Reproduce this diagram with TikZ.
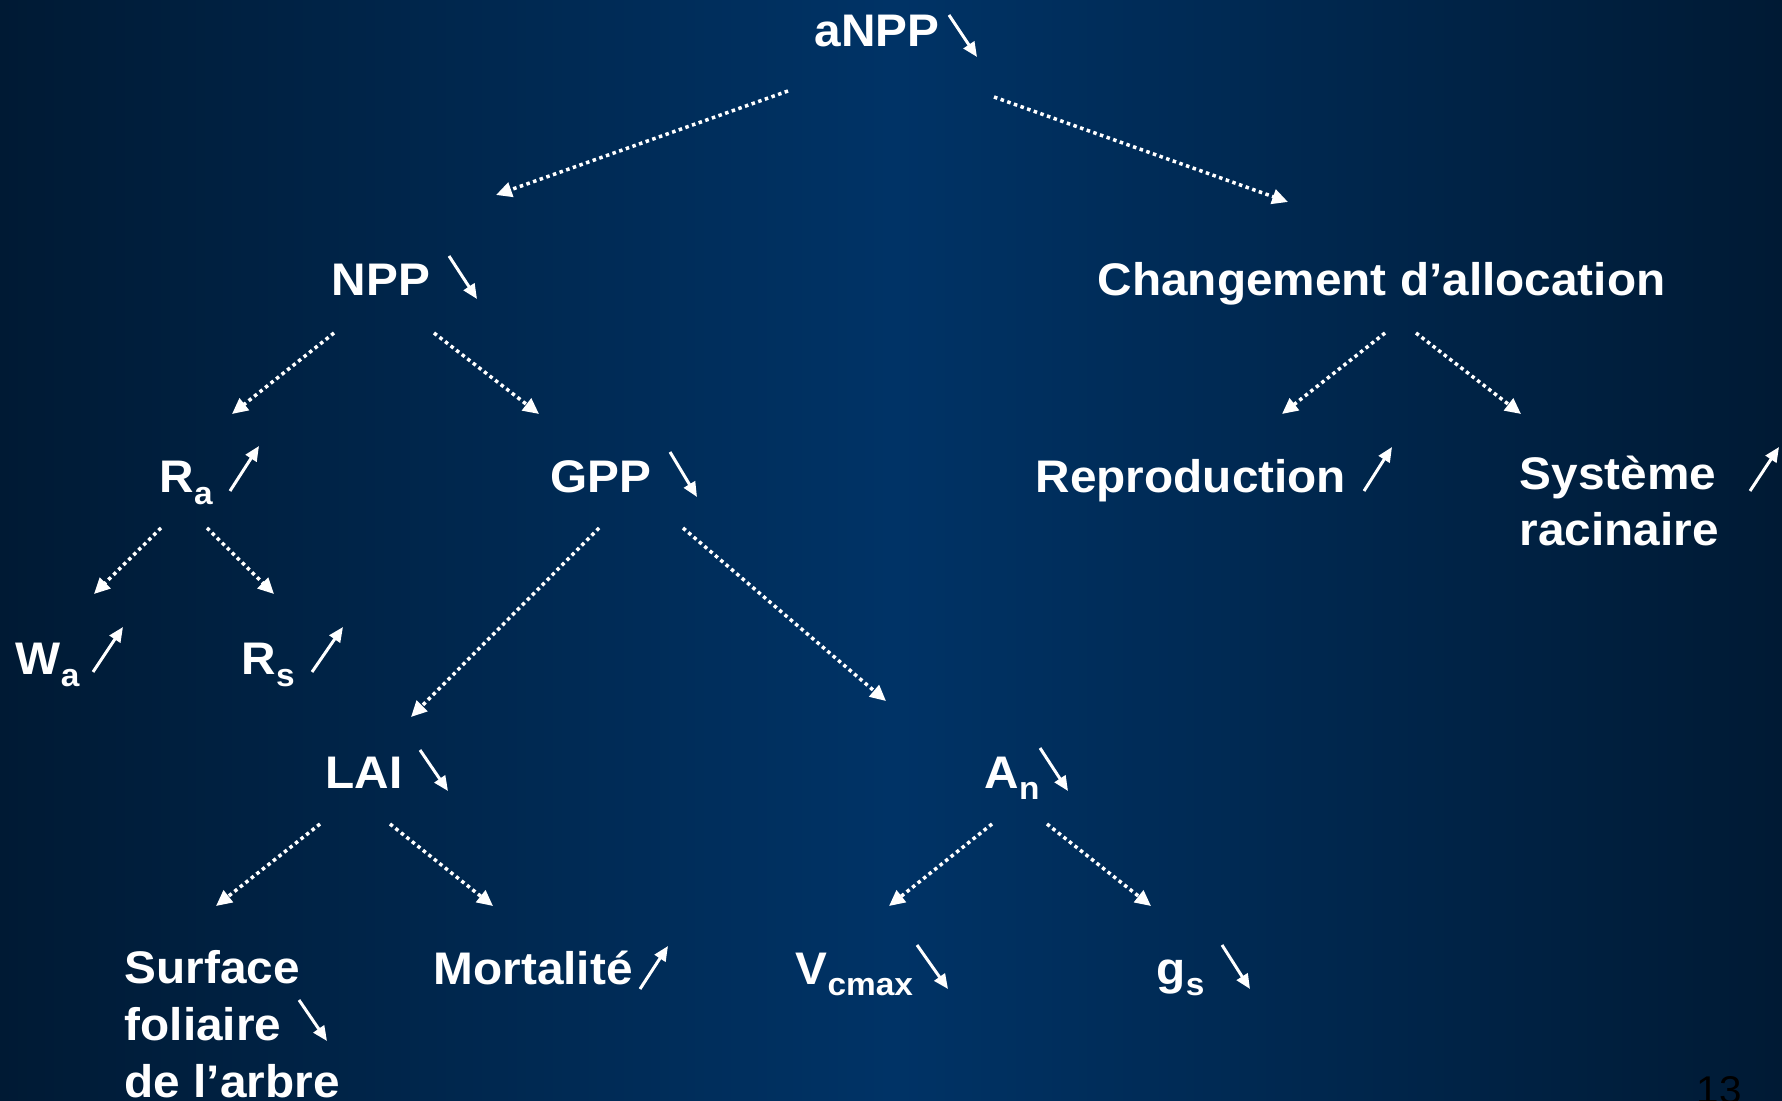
\documentclass[tikz,border=0pt]{standalone}
\usepackage{fontspec}
\setmainfont{Liberation Sans}[FakeStretch=1.045]
\usetikzlibrary{arrows.meta,calc}

\definecolor{bgedge}{RGB}{0,26,52}
\definecolor{bgmid}{RGB}{0,51,102}

% lowered index as on the slide
\newcommand{\idx}[1]{\raisebox{-0.25em}{\fontsize{9.1}{10}\selectfont #1}}

\tikzset{
  term/.style={text=white, font=\fontsize{13}{16.2}\selectfont\bfseries, inner sep=0pt, anchor=base west},
  link/.style={white, line width=1pt, dash pattern=on 1pt off 1pt, -{Triangle[length=4.5pt,width=4.2pt]}},
  trend/.style={white, line width=0.85pt, -{Triangle[length=4.2pt,width=3.6pt]}}
}

\begin{document}
\begin{tikzpicture}
  % background, dark at both sides
  \shade[left color=bgedge, right color=bgedge, middle color=bgmid] (0,0) rectangle (17.82,-11.01);
  \useasboundingbox (0,0) rectangle (17.82,-11.01);

  % the terms of the tree (multi-line ones sit on their last line)
  \node[term] (aNPP) at (8.14,-0.47) {aNPP};
  \node[term] (NPP) at (3.31,-2.96) {NPP};
  \node[term] (chg) at (10.97,-2.96) {Changement d’allocation};
  \node[term] (Ra) at (1.59,-4.93) {R\idx{a}};
  \node[term] (GPP) at (5.50,-4.93) {GPP};
  \node[term] (repro) at (10.35,-4.93) {Reproduction};
  \node[term, align=left] (syst) at (15.19,-5.46) {Système\\racinaire};
  \node[term] (Wa) at (0.15,-6.75) {W\idx{a}};
  \node[term] (Rs) at (2.41,-6.75) {R\idx{s}};
  \node[term] (LAI) at (3.25,-7.88) {LAI};
  \node[term] (An) at (9.84,-7.88) {A\idx{n}};
  \node[term, align=left] (surf) at (1.24,-10.97) {Surface\\foliaire\\de l’arbre};
  \node[term] (mort) at (4.33,-9.84) {Mortalité};
  \node[term] (vcmax) at (7.95,-9.84) {V\idx{cmax}};
  \node[term] (gs) at (11.56,-9.84) {g\idx{s}};

  % dotted links
  \draw[link] ($(aNPP.base west)+(-0.26,-0.44)$) -- ($(NPP.base west)+(1.65,1.01)$);
  \draw[link] ($(aNPP.base west)+(1.80,-0.50)$) -- ($(chg.base west)+(1.91,0.94)$);
  \draw[link] ($(NPP.base west)+(0.03,-0.37)$) -- ($(Ra.base west)+(0.73,0.79)$);
  \draw[link] ($(NPP.base west)+(1.03,-0.37)$) -- ($(GPP.base west)+(-0.11,0.79)$);
  \draw[link] ($(chg.base west)+(2.88,-0.37)$) -- ($(repro.base west)+(2.47,0.79)$);
  \draw[link] ($(chg.base west)+(3.19,-0.37)$) -- ($(syst.base west)+(0.02,1.32)$);
  \draw[link] ($(Ra.base west)+(0.02,-0.35)$) -- ($(Wa.base west)+(0.79,0.81)$);
  \draw[link] ($(Ra.base west)+(0.48,-0.35)$) -- ($(Rs.base west)+(0.33,0.81)$);
  \draw[link] ($(GPP.base west)+(0.49,-0.35)$) -- ($(LAI.base west)+(0.86,0.71)$);
  \draw[link] ($(GPP.base west)+(1.33,-0.35)$) -- ($(An.base west)+(-0.98,0.87)$);
  \draw[link] ($(LAI.base west)+(-0.05,-0.36)$) -- ($(surf.base west)+(0.92,1.91)$);
  \draw[link] ($(LAI.base west)+(0.65,-0.36)$) -- ($(mort.base west)+(0.60,0.78)$);
  \draw[link] ($(An.base west)+(0.08,-0.36)$) -- ($(vcmax.base west)+(0.94,0.78)$);
  \draw[link] ($(An.base west)+(0.63,-0.36)$) -- ($(gs.base west)+(-0.05,0.78)$);

  % trend arrows, down
  \draw[trend] (9.49,-0.15) -- (9.77,-0.57);
  \draw[trend] (4.49,-2.56) -- (4.77,-2.99);
  \draw[trend] (6.70,-4.52) -- (6.97,-4.97);
  \draw[trend] (4.20,-7.50) -- (4.48,-7.91);
  \draw[trend] (10.40,-7.48) -- (10.68,-7.91);
  \draw[trend] (2.99,-10.00) -- (3.27,-10.41);
  \draw[trend] (9.17,-9.45) -- (9.48,-9.89);
  \draw[trend] (12.22,-9.45) -- (12.50,-9.89);

  % trend arrows, up
  \draw[trend] (2.30,-4.91) -- (2.59,-4.46);
  \draw[trend] (13.64,-4.91) -- (13.92,-4.47);
  \draw[trend] (17.50,-4.91) -- (17.79,-4.47);
  \draw[trend] (0.93,-6.72) -- (1.23,-6.27);
  \draw[trend] (3.12,-6.72) -- (3.43,-6.27);
  \draw[trend] (6.40,-9.89) -- (6.68,-9.46);

  % slide number, cut by the lower edge as on the slide
  \node[inner sep=0pt, anchor=base west, font=\fontsize{11}{13}\selectfont] (page) at (16.96,-11.03) {13};
\end{tikzpicture}
\end{document}
